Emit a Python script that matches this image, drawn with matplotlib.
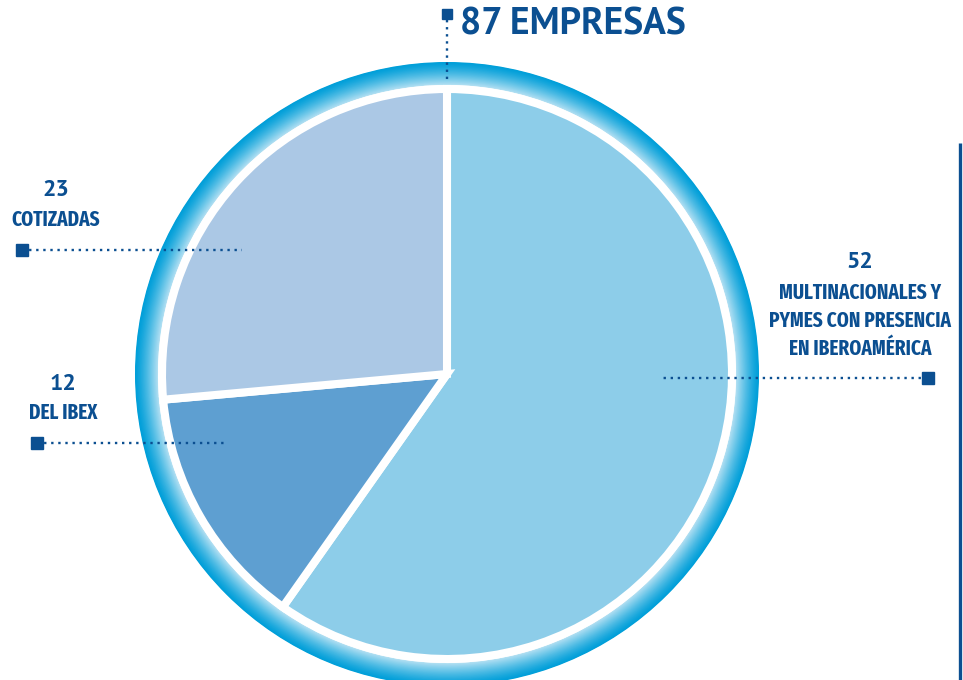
import numpy as np
import matplotlib.pyplot as plt
from matplotlib.colors import to_rgb

W, H = 963, 680
DARK = '#0b4f91'
NARROW = ['Fira Sans Extra Condensed', 'PT Sans Narrow', 'Fira Sans Condensed',
          'Roboto Condensed', 'DejaVu Sans']
HEAD = ['PT Sans', 'Fira Sans', 'Roboto', 'DejaVu Sans']

# companies by group
counts = [52, 12, 23]
names = ['MULTINACIONALES Y\nPYMES CON PRESENCIA\nEN IBEROAMÉRICA', 'DEL IBEX', 'COTIZADAS']
colors = ['#8dcde9', '#5e9fd1', '#abc8e5']

# pixel layout (x, y from top)
cx, cy = 447, 374
num_pos = [(860, 262), (63, 384), (56, 190)]
name_pos = [(860, 321), (63, 413), (56, 220)]
leader = [((928, 378), (662, 378)), ((37, 443), (228, 443)), ((22, 250), (242, 250))]

fig = plt.figure(figsize=(W / 100, H / 100), dpi=100)
ax = fig.add_axes([0, 0, 1, 1])
ax.set_xlim(0, W)
ax.set_ylim(0, H)
ax.set_aspect('equal')
ax.axis('off')

def fy(y):
    return H - y

# gradient ring: dark cyan outside, fading lighter inward
c_out = np.array(to_rgb('#009fd9'))
c_in = np.array(to_rgb('#b8e2f4'))
r_out, r_in = 312, 289
n = 40
for i in range(n):
    t = i / (n - 1)
    r = r_out - (r_out - r_in) * t
    col = c_out + (c_in - c_out) * t ** 1.3
    ax.add_patch(plt.Circle((cx, fy(cy)), r, color=col, lw=0))
ax.add_patch(plt.Circle((cx, fy(cy)), r_in, color='white', lw=0))

ax.pie(counts, colors=colors, startangle=90, counterclock=False,
       radius=285, center=(cx, fy(cy)), frame=True,
       wedgeprops=dict(edgecolor='white', linewidth=5.8))
ax.set_xlim(0, W)
ax.set_ylim(0, H)
ax.axis('off')

for val, name, (nx, ny), (tx, ty), (m, e) in zip(counts, names, num_pos, name_pos, leader):
    ax.text(nx, fy(ny), str(val), ha='center', va='center', color=DARK,
            fontsize=17, fontweight='bold', family=HEAD)
    ax.text(tx, fy(ty), name, ha='center', va='center', color=DARK,
            fontsize=15, fontweight='bold', family=NARROW, linespacing=1.4)
    ax.plot([m[0], e[0]], [fy(m[1]), fy(e[1])], color=DARK, lw=1.7,
            linestyle=(0, (1, 2)))
    ax.plot(m[0], fy(m[1]), marker='s', ms=8, color=DARK, mec=DARK)

# total label at the top
ax.plot([cx, cx], [fy(20), fy(82)], color=DARK, lw=1.7, linestyle=(0, (1, 2)))
ax.plot(cx, fy(14), marker='s', ms=7, color=DARK)
ax.text(460, fy(25), f'{sum(counts)} EMPRESAS', ha='left', va='center',
        color=DARK, fontsize=27, fontweight='bold', family=HEAD)

# vertical rule on the right
ax.plot([960, 960], [fy(143), fy(680)], color=DARK, lw=2.4, solid_capstyle='butt')

fig.savefig('out.png', dpi=100)
